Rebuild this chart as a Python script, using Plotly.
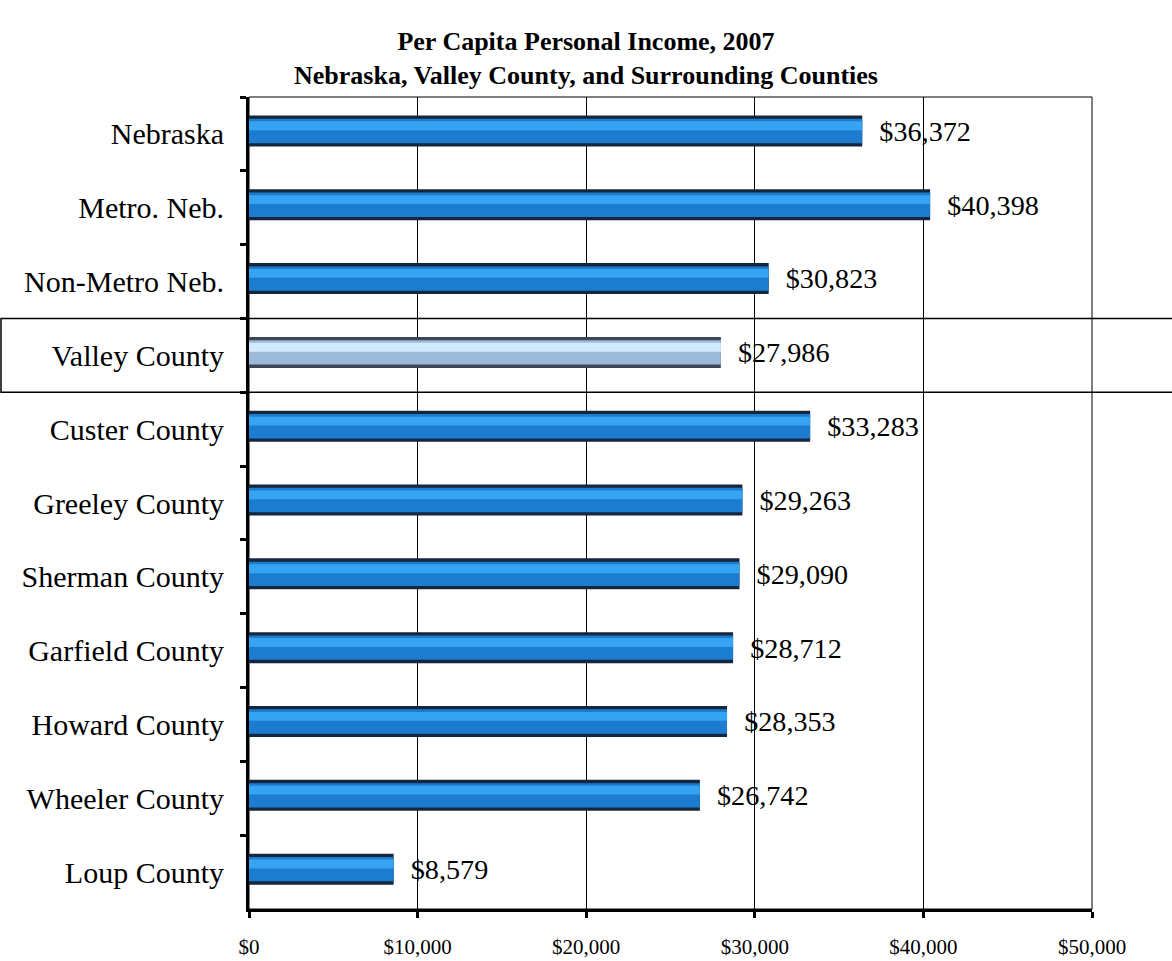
import plotly.graph_objects as go

categories = ["Nebraska", "Metro. Neb.", "Non-Metro Neb.", "Valley County", "Custer County",
              "Greeley County", "Sherman County", "Garfield County", "Howard County",
              "Wheeler County", "Loup County"]
income = [36372, 40398, 30823, 27986, 33283, 29263, 29090, 28712, 28353, 26742, 8579]
highlight = "Valley County"
x_ticks = [0, 10000, 20000, 30000, 40000, 50000]
x_tick_labels = ["$0", "$10,000", "$20,000", "$30,000", "$40,000", "$50,000"]
title_lines = ["Per Capita Personal Income, 2007",
               "Nebraska, Valley County, and Surrounding Counties"]

base_colors = ["#9DB9D8" if c == highlight else "#1C7CD0" for c in categories]
edge_colors = ["#3C4656" if c == highlight else "#15263D" for c in categories]
mid_colors = ["#D2EAFB" if c == highlight else "#36A4F2" for c in categories]
labels = ["\u2002${:,}".format(v) for v in income]

FONT = "Liberation Serif, Times New Roman, serif"
W, H = 1172, 961
L, R, T, B = 249, 80, 97, 52

fig = go.Figure()
# shadow / outline body
fig.add_trace(go.Bar(
    y=categories, x=income, orientation="h", width=0.42, offset=-0.25,
    marker=dict(color=edge_colors, line=dict(width=0)),
    text=labels, textposition="outside",
    textfont=dict(family=FONT, size=30, color="black"),
    cliponaxis=False, hoverinfo="skip", showlegend=False))
# main fill
fig.add_trace(go.Bar(
    y=categories, x=income, orientation="h", width=0.33, offset=-0.205,
    marker=dict(color=base_colors, line=dict(width=0)),
    hoverinfo="skip", showlegend=False))
# highlight strip
fig.add_trace(go.Bar(
    y=categories, x=income, orientation="h", width=0.12, offset=-0.17,
    marker=dict(color=mid_colors, line=dict(width=0)),
    hoverinfo="skip", showlegend=False))

fig.update_layout(
    width=W, height=H,
    paper_bgcolor="white", plot_bgcolor="white",
    margin=dict(l=L, r=R, t=T, b=B, autoexpand=False),
    barmode="overlay",
    title=dict(text="<b>" + title_lines[0] + "<br>" + title_lines[1] + "</b>",
               x=0.5, xanchor="center", y=1 - 50 / H, yanchor="top",
               font=dict(family=FONT, size=26, color="black")),
    font=dict(family=FONT, color="black"),
    xaxis=dict(range=[0, 50000], tickvals=x_ticks, ticktext=x_tick_labels,
               showgrid=True, gridcolor="black", gridwidth=1,
               showline=True, linecolor="black", linewidth=3,
               ticks="outside", ticklen=6, tickwidth=3, tickcolor="black",
               ticklabelstandoff=11, automargin=False,
               tickfont=dict(family=FONT, size=21, color="black"),
               zeroline=False, fixedrange=True),
    yaxis=dict(categoryorder="array", categoryarray=categories, autorange="reversed",
               showgrid=False, showline=True, linecolor="black", linewidth=3,
               ticks="outside", ticklen=6, tickwidth=3, tickcolor="black",
               tickson="boundaries", ticklabelstandoff=16, automargin=False,
               tickfont=dict(family=FONT, size=30, color="black"),
               fixedrange=True),
    shapes=[
        dict(type="rect", xref="paper", yref="paper", x0=0, x1=1, y0=0, y1=1,
             line=dict(color="black", width=1), layer="below"),
        dict(type="rect", xref="paper", yref="y", x0=(1 - L) / (W - L - R), x1=1.12,
             y0=categories.index(highlight) - 0.5, y1=categories.index(highlight) + 0.5,
             line=dict(color="black", width=1.5), layer="above"),
    ],
)

fig.write_html("out.html", config={"displayModeBar": False},
               post_script="document.body.style.margin='0';document.body.style.overflow='hidden';")
